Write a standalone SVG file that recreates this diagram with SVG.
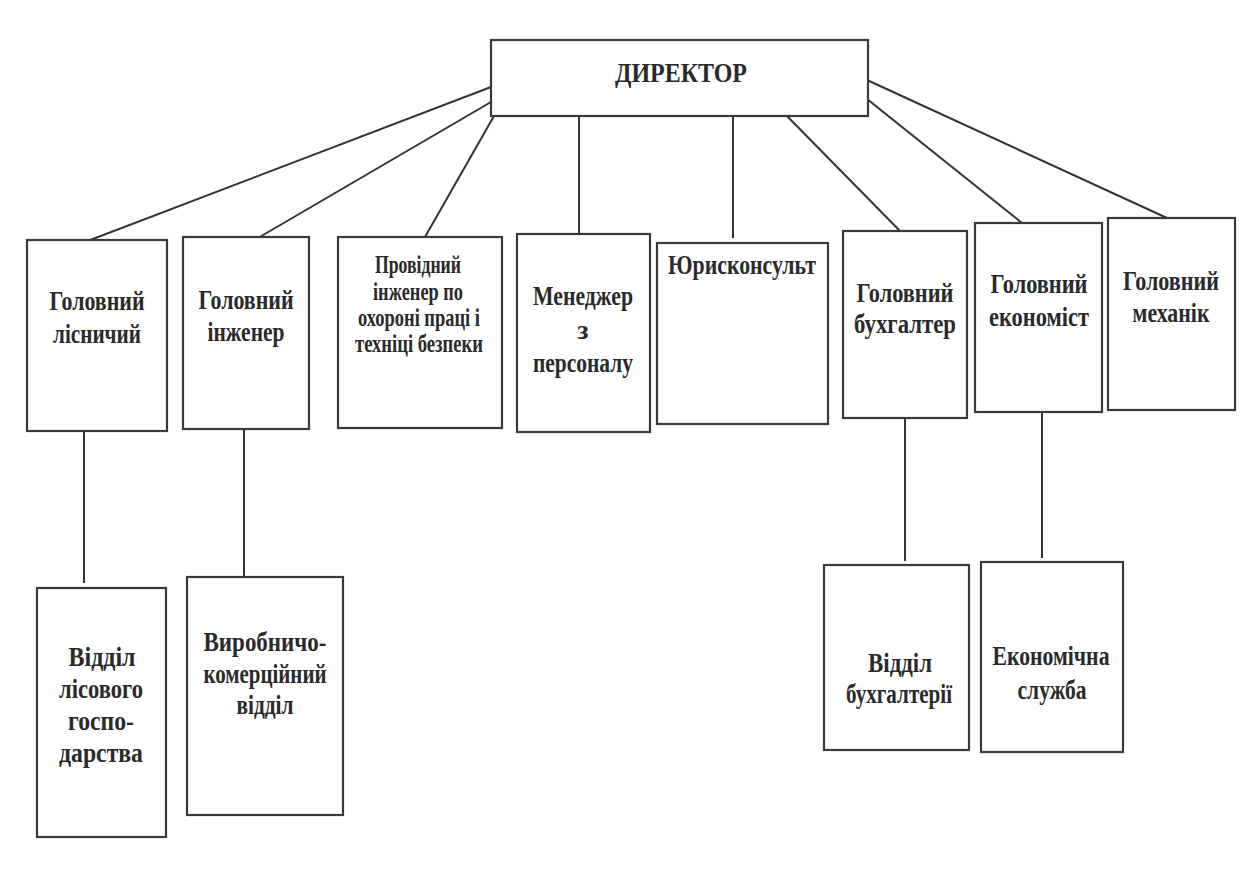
<svg xmlns="http://www.w3.org/2000/svg" width="1246" height="871" viewBox="0 0 1246 871">
<style>
.box{fill:#fff;stroke:#3a3a3a;stroke-width:2.2}
.t{font-family:"Liberation Serif","Times New Roman",serif;font-weight:bold;font-size:28px;fill:#2a2a2a;text-anchor:middle}
.s{font-size:25px}
.c{stroke:#333;stroke-width:2;fill:none}
</style>
<rect width="1246" height="871" fill="#fff"/>
<g id="connectors">
<line class="c" x1="491" y1="87" x2="85" y2="242"/>
<line class="c" x1="491" y1="102" x2="258" y2="238"/>
<line class="c" x1="494" y1="116" x2="425" y2="237"/>
<line class="c" x1="579" y1="116" x2="579" y2="234"/>
<line class="c" x1="733" y1="115" x2="733" y2="238"/>
<line class="c" x1="785" y1="114" x2="900" y2="231"/>
<line class="c" x1="867" y1="99" x2="1022" y2="223"/>
<line class="c" x1="867" y1="80" x2="1167" y2="218"/>
<line class="c" x1="84" y1="431" x2="84" y2="583"/>
<line class="c" x1="244" y1="429" x2="244" y2="577"/>
<line class="c" x1="905" y1="418" x2="905" y2="561"/>
<line class="c" x1="1042" y1="412" x2="1042" y2="558"/>
</g>
<g id="director">
<rect class="box" x="491" y="40" width="377" height="76"/>
<text class="t" x="681" y="82" font-size="33" textLength="132" lengthAdjust="spacingAndGlyphs">ДИРЕКТОР</text>
</g>
<g id="head-forester">
<rect class="box" x="27" y="240" width="140" height="191"/>
<text class="t" x="97" y="310" textLength="95" lengthAdjust="spacingAndGlyphs">Головний</text>
<text class="t" x="97" y="343" textLength="88" lengthAdjust="spacingAndGlyphs">лісничий</text>
</g>
<g id="chief-engineer">
<rect class="box" x="183" y="237" width="126" height="192"/>
<text class="t" x="246" y="309" textLength="95" lengthAdjust="spacingAndGlyphs">Головний</text>
<text class="t" x="246" y="341" textLength="77" lengthAdjust="spacingAndGlyphs">інженер</text>
</g>
<g id="safety-engineer">
<rect class="box" x="338" y="237" width="164" height="191"/>
<text class="t s" x="418" y="273" textLength="86" lengthAdjust="spacingAndGlyphs">Провідний</text>
<text class="t s" x="418" y="300" textLength="90" lengthAdjust="spacingAndGlyphs">інженер по</text>
<text class="t s" x="419" y="326" textLength="122" lengthAdjust="spacingAndGlyphs">охороні праці і</text>
<text class="t s" x="419" y="352" textLength="128" lengthAdjust="spacingAndGlyphs">техніці безпеки</text>
</g>
<g id="hr-manager">
<rect class="box" x="517" y="234" width="133" height="198"/>
<text class="t" x="583" y="305" textLength="100" lengthAdjust="spacingAndGlyphs">Менеджер</text>
<text class="t" x="583" y="339">з</text>
<text class="t" x="583" y="372" textLength="100" lengthAdjust="spacingAndGlyphs">персоналу</text>
</g>
<g id="legal-adviser">
<rect class="box" x="657" y="243" width="171" height="181"/>
<text class="t" x="742" y="274" textLength="148" lengthAdjust="spacingAndGlyphs">Юрисконсульт</text>
</g>
<g id="chief-accountant">
<rect class="box" x="843" y="231" width="124" height="187"/>
<text class="t" x="905" y="302" textLength="97" lengthAdjust="spacingAndGlyphs">Головний</text>
<text class="t" x="905" y="333" textLength="102" lengthAdjust="spacingAndGlyphs">бухгалтер</text>
</g>
<g id="chief-economist">
<rect class="box" x="975" y="223" width="127" height="189"/>
<text class="t" x="1039" y="293" textLength="97" lengthAdjust="spacingAndGlyphs">Головний</text>
<text class="t" x="1039" y="326" textLength="100" lengthAdjust="spacingAndGlyphs">економіст</text>
</g>
<g id="chief-mechanic">
<rect class="box" x="1108" y="218" width="127" height="192"/>
<text class="t" x="1171" y="290" textLength="96" lengthAdjust="spacingAndGlyphs">Головний</text>
<text class="t" x="1171" y="322" textLength="77" lengthAdjust="spacingAndGlyphs">механік</text>
</g>
<g id="forestry-dept">
<rect class="box" x="37" y="588" width="129" height="249"/>
<text class="t" x="102" y="666" textLength="67" lengthAdjust="spacingAndGlyphs">Відділ</text>
<text class="t" x="101" y="698" textLength="84" lengthAdjust="spacingAndGlyphs">лісового</text>
<text class="t" x="101" y="730" textLength="66" lengthAdjust="spacingAndGlyphs">госпо-</text>
<text class="t" x="101" y="762" textLength="84" lengthAdjust="spacingAndGlyphs">дарства</text>
</g>
<g id="production-dept">
<rect class="box" x="187" y="577" width="156" height="238"/>
<text class="t" x="265" y="651" textLength="123" lengthAdjust="spacingAndGlyphs">Виробничо-</text>
<text class="t" x="265" y="683" textLength="123" lengthAdjust="spacingAndGlyphs">комерційний</text>
<text class="t" x="265" y="714" textLength="57" lengthAdjust="spacingAndGlyphs">відділ</text>
</g>
<g id="accounting-dept">
<rect class="box" x="824" y="565" width="145" height="185"/>
<text class="t" x="900" y="672" textLength="64" lengthAdjust="spacingAndGlyphs">Відділ</text>
<text class="t" x="899" y="703" textLength="106" lengthAdjust="spacingAndGlyphs">бухгалтерії</text>
</g>
<g id="economic-service">
<rect class="box" x="981" y="562" width="142" height="190"/>
<text class="t" x="1051" y="665" textLength="117" lengthAdjust="spacingAndGlyphs">Економічна</text>
<text class="t" x="1052" y="699" textLength="69" lengthAdjust="spacingAndGlyphs">служба</text>
</g>
</svg>
